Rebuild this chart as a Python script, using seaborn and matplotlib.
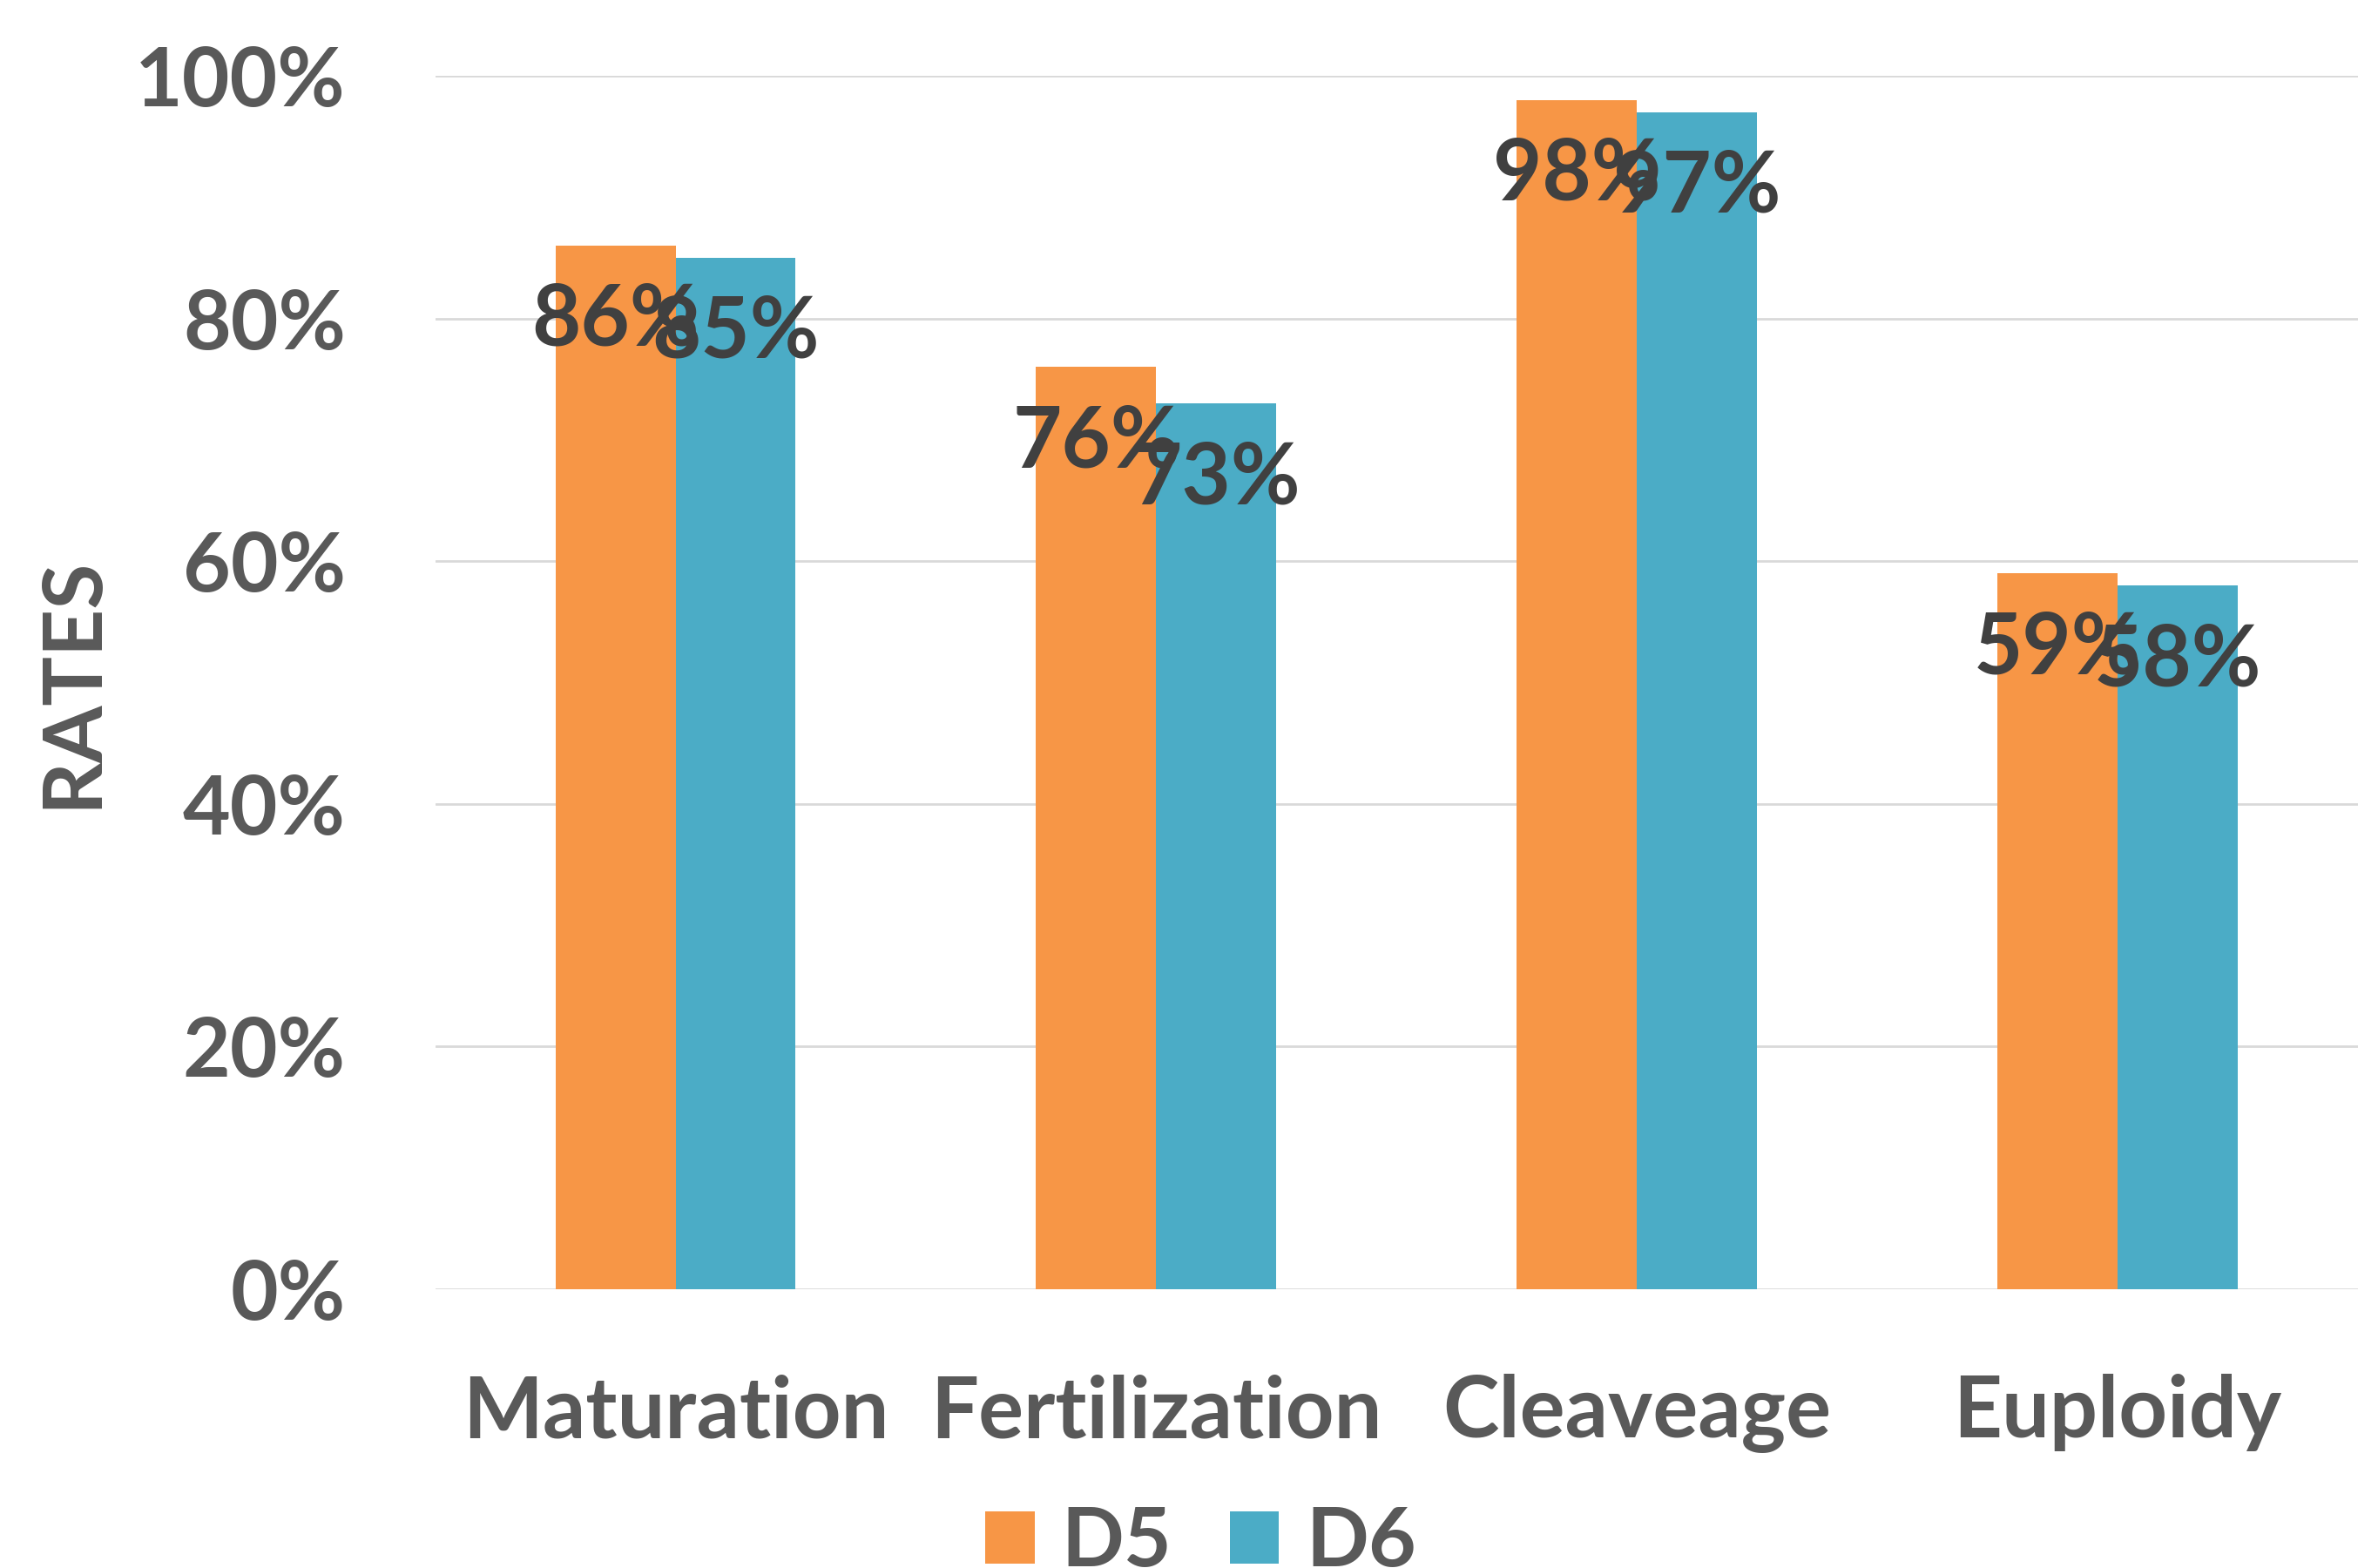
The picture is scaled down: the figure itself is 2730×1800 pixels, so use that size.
import matplotlib
matplotlib.use("Agg")
import matplotlib.pyplot as plt
import seaborn as sns
import pandas as pd
from matplotlib.ticker import FuncFormatter

categories = ["Maturation", "Fertilization", "Cleaveage", "Euploidy"]
d5_values = [0.86, 0.76, 0.98, 0.59]
d6_values = [0.85, 0.73, 0.97, 0.58]
series_names = ["D5", "D6"]
y_ticks = [0, 0.2, 0.4, 0.6, 0.8, 1.0]

df = pd.DataFrame({
    "stage": categories * 2,
    "rate": d5_values + d6_values,
    "day": [series_names[0]] * 4 + [series_names[1]] * 4,
})

sns.set_theme(style="white")
plt.rcParams['font.family'] = ['Lato', 'DejaVu Sans']
plt.rcParams['font.weight'] = 'bold'

fig = plt.figure(figsize=(27.3, 18), dpi=100)
ax = fig.add_axes([0.183, 0.1778, 0.9916 - 0.183, 0.9517 - 0.1778])

palette = {"D5": "#F79646", "D6": "#4BACC6"}
sns.barplot(data=df, x="stage", y="rate", hue="day", palette=palette,
            width=0.5, dodge=True, saturation=1, ax=ax, zorder=3, legend=True,
            linewidth=0, edgecolor="none")

ax.set_ylim(0, 1.0)
ax.set_xlim(-0.5, 3.5)
ax.set_yticks(y_ticks)
ax.yaxis.set_major_formatter(FuncFormatter(lambda v, p: f"{v*100:.0f}%"))
ax.grid(axis="y", color="#d9d9d9", linewidth=2, zorder=0)
ax.grid(axis="x", visible=False)
for s in ax.spines.values():
    s.set_visible(False)
ax.tick_params(axis="both", length=0, labelsize=68, labelcolor="#595959")
ax.tick_params(axis="x", labelsize=70, pad=70)
ax.tick_params(axis="y", pad=74)
for lab in ax.get_xticklabels() + ax.get_yticklabels():
    lab.set_fontweight("bold")

ax.set_xlabel("")
ax.set_ylabel("RATES", fontsize=68, fontweight="bold", color="#595959")
ax.yaxis.set_label_coords(-0.169, 0.5)

for container, vals in zip(ax.containers, [d5_values, d6_values]):
    for bar, v in zip(container, vals):
        ax.annotate(f"{v*100:.0f}%",
                    xy=(bar.get_x() + bar.get_width() / 2, bar.get_height()),
                    xytext=(0, -115), textcoords="offset pixels",
                    ha="center", va="baseline", fontsize=70,
                    fontweight="bold", color="#404040", zorder=5)

handles, labels = ax.get_legend_handles_labels()
ax.legend_.remove()
fig.legend(handles, labels, loc="upper center", bbox_to_anchor=(0.505, 0.040),
           ncol=2, frameon=False, labelcolor="#595959",
           handlelength=0.6, handleheight=0.6, handletextpad=0.33,
           columnspacing=0.7, borderpad=0, borderaxespad=0,
           prop={"weight": "bold", "size": 68})

fig.savefig("out.png", dpi=100)
